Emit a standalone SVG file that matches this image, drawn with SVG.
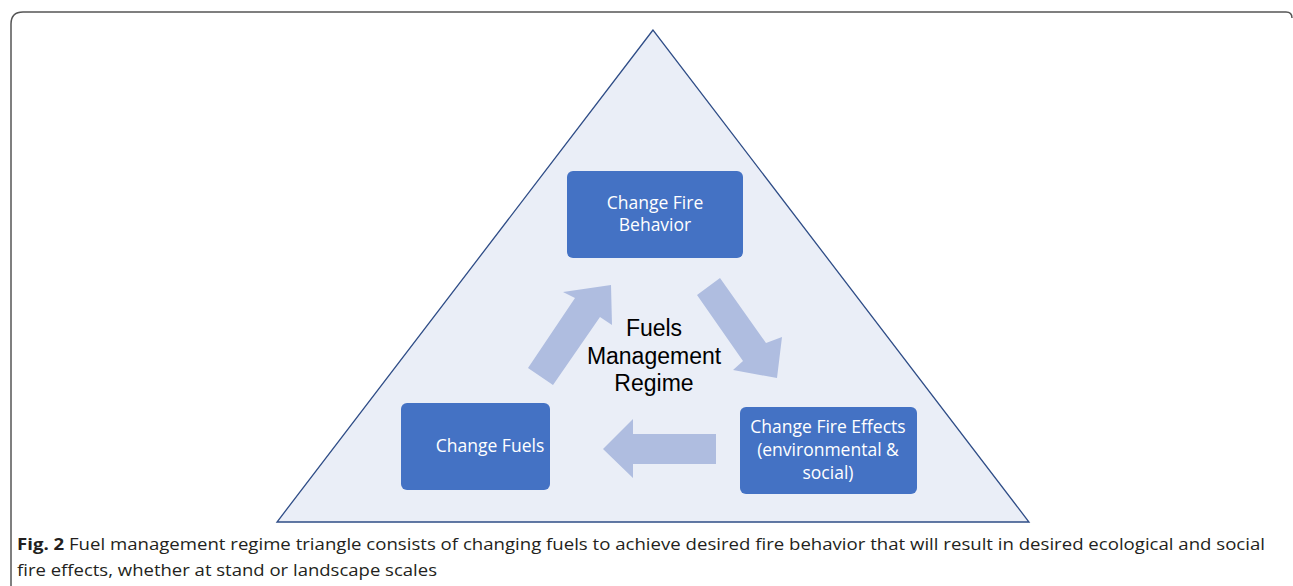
<svg xmlns="http://www.w3.org/2000/svg" width="1293" height="586" viewBox="0 0 1293 586">
<style>
.box{fill:#4472C4;}
.bt{font-family:"Open Sans","Liberation Sans",sans-serif;font-size:17.5px;fill:#ffffff;text-anchor:middle;}
.arrow{fill:#AFBDE0;}
.center{font-family:"Liberation Sans",Arial,sans-serif;font-size:23px;fill:#000;text-anchor:middle;}
.cap{font-family:"Open Sans","Liberation Sans",sans-serif;font-size:16.5px;fill:#231F20;}
</style>
<rect width="1293" height="586" fill="#ffffff"/>
<path d="M11,586 V24 Q11,12 23,12 H1286 Q1292,12 1292,18" fill="none" stroke="#555" stroke-width="1.5"/>
<g id="triangle">
<polygon points="653,30 277,522 1029,522" fill="#EAEEF7" stroke="#2F4D87" stroke-width="1.3"/>
</g>
<g id="connectors">
<polygon class="arrow" points="528,368 575,298 563,292 611,285 612,325 600,317 553,385"/>
<polygon class="arrow" points="697,295 720,278 766,343 782,337 777,378 733,370 743,361"/>
<polygon class="arrow" points="716,434 633,434 633,419 603,449 633,478 633,464 716,464"/>
</g>
<g id="fire-behavior">
<rect class="box" x="567" y="171" width="176" height="87" rx="6"/>
<text class="bt" x="655" y="209">Change Fire</text>
<text class="bt" x="655" y="231">Behavior</text>
</g>
<g id="fuels-regime">
<text class="center" x="654" y="336">Fuels</text>
<text class="center" x="654" y="364">Management</text>
<text class="center" x="654" y="391">Regime</text>
</g>
<g id="change-fuels">
<rect class="box" x="401" y="403" width="149" height="87" rx="6"/>
<text class="bt" x="490" y="452">Change Fuels</text>
</g>
<g id="fire-effects">
<rect class="box" x="740" y="407" width="177" height="87" rx="6"/>
<text class="bt" x="828" y="433">Change Fire Effects</text>
<text class="bt" x="828" y="456">(environmental &amp;</text>
<text class="bt" x="828" y="479">social)</text>
</g>
<g id="caption">
<text class="cap" x="17" y="550" textLength="1248" lengthAdjust="spacingAndGlyphs"><tspan font-weight="bold">Fig. 2</tspan>  Fuel management regime triangle consists of changing fuels to achieve desired fire behavior that will result in desired ecological and social</text>
<text class="cap" x="17" y="576" textLength="420" lengthAdjust="spacingAndGlyphs">fire effects, whether at stand or landscape scales</text>
</g>
</svg>
